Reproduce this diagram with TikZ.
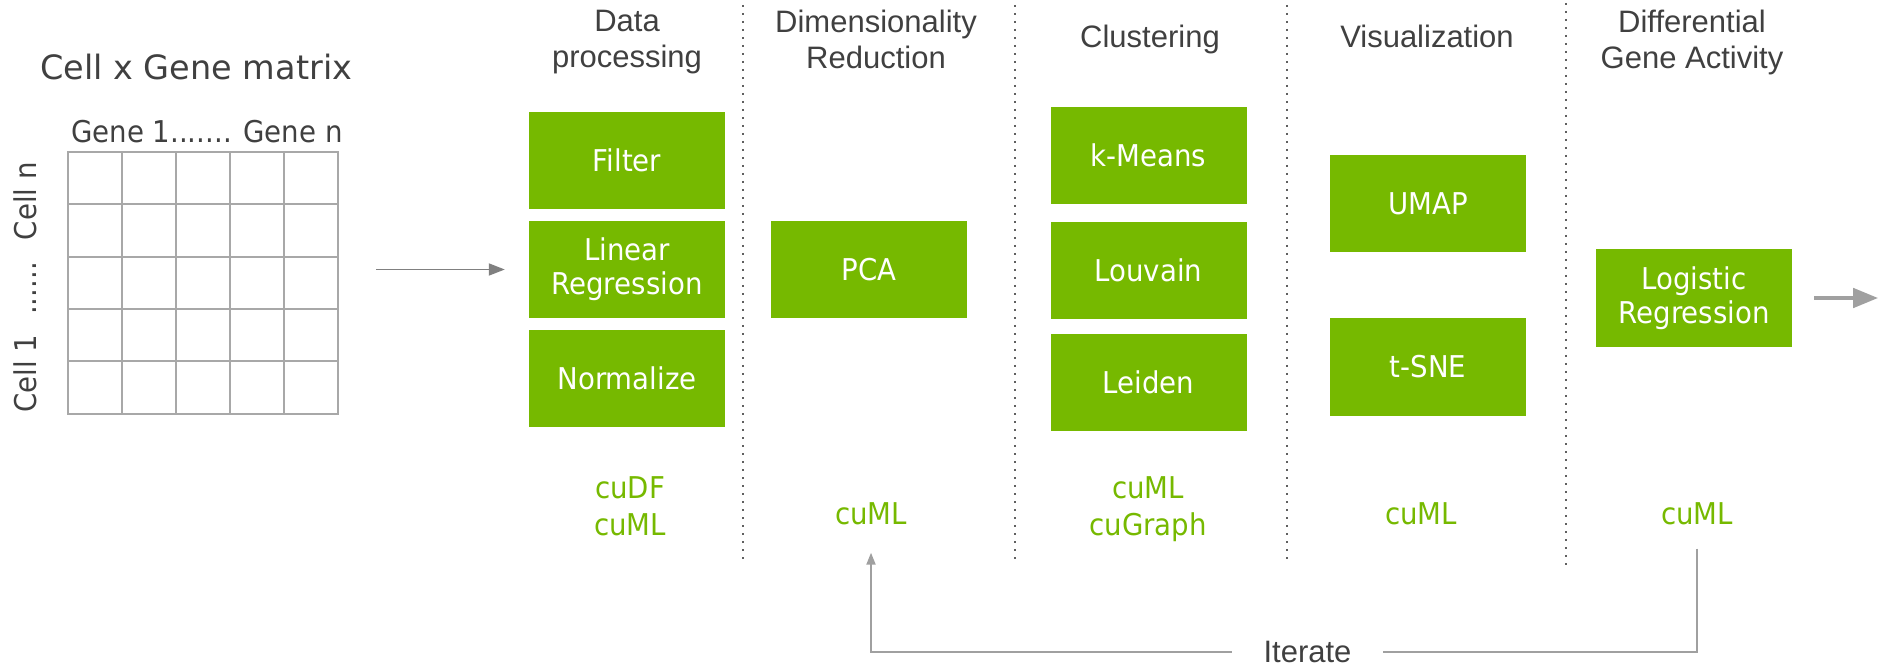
\documentclass[tikz,border=0pt]{standalone}
\usepackage{fontspec}
\setmainfont[FakeStretch=0.92]{DejaVu Sans}
\newfontfamily\titlefont{DejaVu Sans}
\newfontfamily\headfont{Liberation Sans}
\usetikzlibrary{arrows.meta}

\definecolor{nvgreen}{HTML}{76B900}
\definecolor{inkgray}{HTML}{404040}
\definecolor{gridgray}{HTML}{A8A8A8}
\definecolor{flowgray}{HTML}{808080}
\definecolor{loopgray}{HTML}{A0A0A0}
\definecolor{sepgray}{HTML}{606060}

\begin{document}
\begin{tikzpicture}[x=1pt, y=-1pt,
  stagebox/.style={fill=nvgreen, draw=none, minimum width=196pt, minimum height=97pt,
    inner sep=0pt, text=white, align=center, font=\fontsize{30}{34}\selectfont},
  stagehead/.style={anchor=north, inner sep=0pt, align=center, text=inkgray,
    font=\headfont\fontsize{31}{36}\selectfont},
  libtag/.style={anchor=north, inner sep=0pt, align=center, text=nvgreen,
    font=\fontsize{30}{37}\selectfont},
  sepline/.style={sepgray, line width=2.2pt, dash pattern=on 2.2pt off 5.8pt},
  gridline/.style={gridgray, line width=2pt, line cap=rect},
  flow/.style={flowgray, line width=1.8pt, -{Triangle[length=16pt,width=12pt]}},
  outflow/.style={loopgray, line width=4.5pt, -{Triangle[length=25pt,width=19pt]}},
  loopline/.style={loopgray, line width=2pt}
]
\useasboundingbox (0,0) rectangle (1882,668);

% input matrix
\node[anchor=base west, inner sep=0pt, text=inkgray, font=\titlefont\fontsize{33.5}{40}\selectfont]
  (title) at (40,80) {Cell x Gene matrix};
\node[anchor=base west, inner sep=0pt, text=inkgray, font=\fontsize{30}{36}\selectfont]
  (genes) at (71,143) {Gene 1....... Gene n};
\node[rotate=90, inner sep=0pt, text=inkgray, font=\fontsize{30}{36}\selectfont]
  (cells) at (25,287.5) {Cell 1\hspace{20pt}......\hspace{22pt}Cell n};
\node[minimum width=270pt, minimum height=262pt, inner sep=0pt] (mat) at (203,283) {};
\foreach \i in {0,...,5}
  \draw[gridline] ([xshift=54*\i pt]mat.north west) -- ([xshift=54*\i pt]mat.south west);
\foreach \j in {0,...,5}
  \draw[gridline] ([yshift=-52.4*\j pt]mat.north west) -- ([yshift=-52.4*\j pt]mat.north east);

% column separators
\draw[sepline] (743,5) -- (743,560);
\draw[sepline] (1015,5) -- (1015,560);
\draw[sepline] (1287,5) -- (1287,560);
\draw[sepline] (1566,3) -- (1566,566);

% stage headings
\node[stagehead] (hdata) at (627,10) {Data\\processing};
\node[stagehead] (hdim)  at (876,10) {Dimensionality\\Reduction};
\node[stagehead] (hclu)  at (1150,25) {Clustering};
\node[stagehead] (hvis)  at (1427,25) {Visualization};
\node[stagehead] (hdga)  at (1692,10) {Differential\\Gene Activity};

% algorithm boxes
\node[stagebox] (filter) at (627,160.5) {Filter};
\node[stagebox] (lr)     at (627,269.5) {Linear\\Regression};
\node[stagebox] (norm)   at (627,378)   {Normalize};
\node[stagebox] (pca)    at (869,269.5) {PCA};
\node[stagebox] (kmeans) at (1148.5,155.5) {k-Means};
\node[stagebox] (louv)   at (1148.5,270.5) {Louvain};
\node[stagebox] (leiden) at (1148.5,382.5) {Leiden};
\node[stagebox] (umap)   at (1428,203.5) {UMAP};
\node[stagebox] (tsne)   at (1428,367)   {t-SNE};
\node[stagebox] (logreg) at (1694,298)   {Logistic\\Regression};

% libraries
\node[libtag] (tagdata) at (630,476) {cuDF\\cuML};
\node[libtag] (tagdim)  at (871,502) {cuML};
\node[libtag] (tagclu)  at (1148,476) {cuML\\cuGraph};
\node[libtag] (tagvis)  at (1421,502) {cuML};
\node[libtag] (tagdga)  at (1697,502) {cuML};

% flow arrows
\path (mat.east |- lr.west) coordinate (matside);
\draw[flow] ([xshift=38pt]matside) -- ([xshift=-24pt]lr.west);
\draw[outflow] ([xshift=22pt]logreg.east) -- ([xshift=86pt]logreg.east);

% iteration loop
\node[inner sep=0pt, minimum width=151pt, text=inkgray, font=\headfont\fontsize{31}{36}\selectfont]
  (iter) at (1307.5,652) {Iterate};
\draw[loopline] ([yshift=-24pt]tagdga.south) |- (iter.east);
\draw[loopline, -{Triangle[length=12pt,width=9pt]}] (iter.west) -| ([yshift=-28pt]tagdim.south);
\end{tikzpicture}
\end{document}
